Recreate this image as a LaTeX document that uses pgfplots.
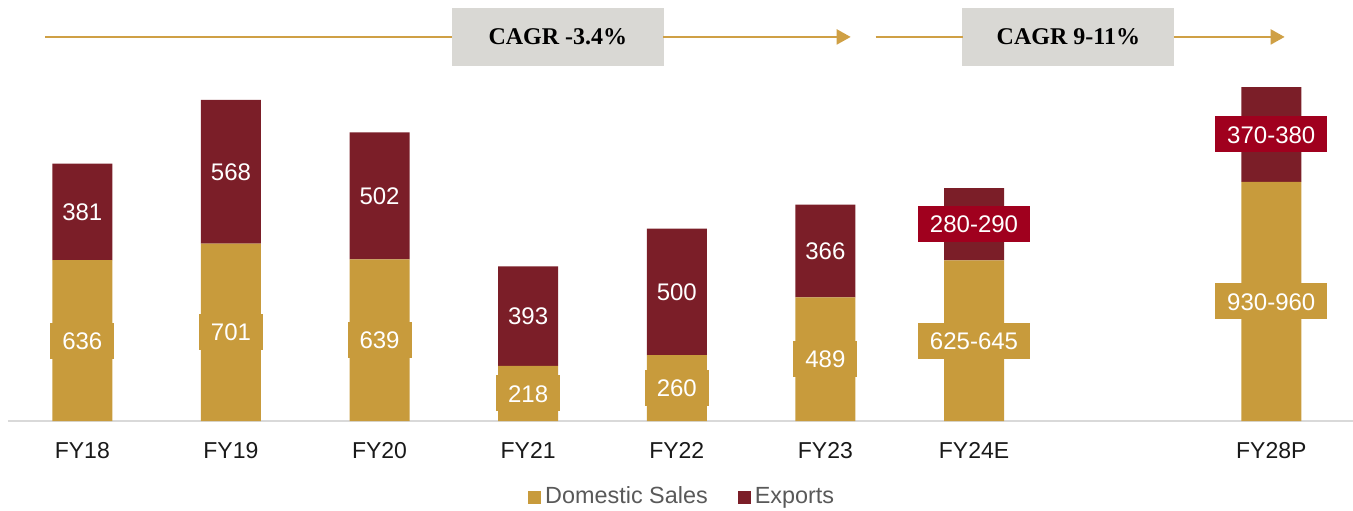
\documentclass[border=0pt]{standalone}
\usepackage{fontspec}
\setmainfont{Liberation Sans}
\newfontfamily\serifb{Liberation Serif}
\usepackage{pgfplots}
\pgfplotsset{compat=1.18}
\usetikzlibrary{arrows.meta}
\definecolor{gold}{HTML}{C89B3C}
\definecolor{dred}{HTML}{7B1E28}
\definecolor{bred}{HTML}{A0001E}
\definecolor{gbox}{HTML}{D9D8D4}
\definecolor{arr}{HTML}{CFA045}
\pgfplotsset{base/.style={scale only axis, width=672.5pt, height=210.5pt,
  xmin=-0.5, xmax=8.55, ymin=0, ymax=1664, clip=false, at={(0,0)}, anchor=south west}}
\begin{document}
\begin{tikzpicture}
\useasboundingbox (-4pt,-44.5pt) rectangle (672.5pt,210.5pt);
\begin{axis}[base, ybar stacked, bar width=30pt,
  axis y line=none, axis x line*=bottom,
  x axis line style={draw=black!15, line width=0.8pt},
  xtick={0,1,2,3,4,5,6,8},
  xticklabels={FY18,FY19,FY20,FY21,FY22,FY23,FY24E,FY28P},
  major tick length=0, ytick=\empty,
  xticklabel style={font=\fontsize{11.5}{13}\selectfont, text=black!90, yshift=-7pt},
  legend style={at={(axis description cs:0.502,0)}, yshift=-38pt, anchor=center,
    draw=none, fill=none, legend columns=2, font=\fontsize{11.7}{13}\selectfont,
    text=black!65, /tikz/every even column/.append style={column sep=13pt}},
  legend image code/.code={\fill[#1] (0pt,-3.25pt) rectangle (6.5pt,3.25pt);}
]
\addplot[fill=gold, draw=none] coordinates {(0,636) (1,701) (2,639) (3,218) (4,260) (5,489) (6,635) (8,945)};
\addplot[fill=dred, draw=none] coordinates {(0,381) (1,568) (2,502) (3,393) (4,500) (5,366) (6,285) (8,375)};
\legend{Domestic Sales, Exports}
\draw[arr, line width=1.1pt] (axis cs:-0.249,1518) -- (axis cs:2.49,1518);
\draw[arr, line width=1.1pt, -{Triangle[length=7pt,width=7.5pt]}] (axis cs:3.91,1518) -- (axis cs:5.17,1518);
\draw[arr, line width=1.1pt] (axis cs:5.338,1518) -- (axis cs:5.925,1518);
\draw[arr, line width=1.1pt, -{Triangle[length=7pt,width=7.5pt]}] (axis cs:7.345,1518) -- (axis cs:8.09,1518);
\node[fill=gbox, minimum width=106pt, minimum height=29pt, inner sep=0pt, text=black,
  font=\fontsize{12}{14}\serifb\bfseries] at (axis cs:3.2,1518) {CAGR -3.4\%};
\node[fill=gbox, minimum width=106pt, minimum height=29pt, inner sep=0pt, text=black,
  font=\fontsize{12}{14}\serifb\bfseries] at (axis cs:6.635,1518) {CAGR 9-11\%};
\end{axis}
\begin{axis}[base, hide axis, nodes near coords, point meta=explicit symbolic,
  every node near coord/.append style={anchor=center, font=\fontsize{12}{14}\selectfont,
    text=white, inner xsep=6pt, inner ysep=0pt, minimum height=18pt,
    text height=8.6pt, text depth=0pt}]
\addplot[draw=none, mark=none, nodes near coords style={fill=gold}] coordinates {
(0,318) [636] (1,350.5) [701] (2,319.5) [639] (3,109) [218] (4,130) [260]
(5,244.5) [489] (6,317.5) [625-645] (8,472.5) [930-960]};
\addplot[draw=none, mark=none] coordinates {
(0,826.5) [381] (1,985) [568] (2,890) [502] (3,414.5) [393] (4,510) [500] (5,672) [366]};
\addplot[draw=none, mark=none, nodes near coords style={fill=bred}] coordinates {
(6,777.5) [280-290] (8,1132.5) [370-380]};
\end{axis}
\end{tikzpicture}
\end{document}
